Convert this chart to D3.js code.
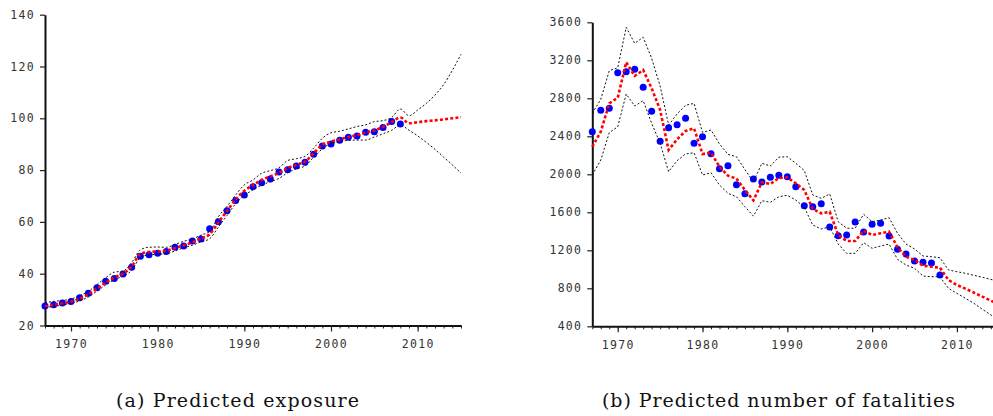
<!DOCTYPE html>
<html>
<head>
<meta charset="utf-8">
<script src="https://cdn.jsdelivr.net/npm/d3@7"></script>
<style>
  html, body { margin: 0; padding: 0; background: #fff; }
  svg { display: block; }
  .tick text { font-family: "DejaVu Sans Mono", monospace; font-size: 11.5px; fill: #333; letter-spacing: 1.3px; }
  .caption { font-family: "DejaVu Serif", "Liberation Serif", serif; fill: #111; }
</style>
</head>
<body>
<svg id="chart" width="993" height="416"></svg>
<script>
// ---------- DATA ----------
const yearsObs = d3.range(1967, 2009);   // observed years
const yearsFit = d3.range(1967, 2016);   // fitted + forecast years

const exposureObs = [27.5,28.0,28.7,29.3,30.7,32.5,34.6,37.1,38.1,39.9,
  42.5,46.7,47.3,47.9,48.6,50.2,50.7,52.6,53.4,57.4,
  60.1,64.3,68.3,70.4,73.6,75.1,76.6,79.3,80.1,81.6,
  83.0,86.1,89.3,90.1,91.5,92.7,93.2,94.6,94.8,96.4,
  98.8,97.8];
const exposureFit = [27.3,28.0,28.5,29.2,30.3,32.0,34.2,36.6,38.6,40.0,
  42.8,47.6,48.4,48.6,48.9,49.9,51.0,52.1,53.6,55.2,
  59.8,64.2,68.7,72.0,74.2,76.2,77.6,78.9,80.8,82.0,
  83.3,86.5,89.8,91.0,91.8,92.8,93.5,94.5,95.3,96.7,
  98.5,100.3,98.1,98.5,98.9,99.2,99.6,100.0,100.4];
const exposureUpper = [28.8,29.3,29.7,30.2,31.5,33.2,35.8,38.4,40.6,41.0,
  44.3,49.2,50.2,50.3,50.2,51.3,52.5,53.4,54.9,56.3,
  62.0,66.0,70.4,74.3,76.2,78.8,79.8,80.9,83.7,84.4,
  85.3,88.5,92.3,94.4,95.0,95.9,96.8,97.5,98.7,99.1,
  100.3,103.6,101.0,103.2,105.8,109.0,113.0,118.5,124.7];
const exposureLower = [26.9,27.4,27.9,28.5,29.5,31.0,33.3,35.6,37.7,39.0,
  41.3,46.2,47.3,47.5,47.7,48.8,50.0,51.0,52.3,53.5,
  58.0,62.5,67.0,70.2,72.4,74.2,75.5,76.8,79.0,80.5,
  81.6,85.0,88.2,90.3,90.9,91.5,91.6,91.6,92.8,94.0,
  95.4,97.4,95.4,93.2,90.7,88.0,85.0,82.0,78.8];

const fatalObs = [2448,2673,2695,3069,3080,3105,2916,2663,2347,2490,
  2522,2589,2326,2396,2217,2059,2090,1890,1796,1950,
  1919,1968,1989,1975,1869,1669,1659,1690,1445,1354,
  1361,1498,1393,1474,1484,1350,1210,1161,1087,1074,
  1066,940];
const fatalFit = [2290,2448,2747,2806,3179,3035,3098,2905,2677,2256,
  2368,2456,2484,2214,2227,2080,1985,1955,1835,1725,
  1916,1898,1961,1968,1905,1835,1635,1589,1606,1361,
  1298,1298,1406,1361,1379,1396,1232,1133,1098,1038,
  1027,1017,887,835,796,754,712,670,630];
const fatalUpper = [2642,2789,3090,3122,3547,3379,3442,3221,2929,2519,
  2635,2726,2747,2442,2466,2319,2210,2185,2050,1920,
  2116,2087,2180,2185,2116,2040,1782,1747,1793,1501,
  1432,1432,1579,1501,1519,1543,1379,1266,1214,1140,
  1133,1122,993,975,958,937,916,893,875];
const fatalLower = [1993,2150,2438,2501,2845,2719,2775,2537,2326,2027,
  2143,2214,2227,1993,2017,1887,1800,1764,1659,1560,
  1722,1705,1764,1779,1729,1652,1466,1424,1448,1266,
  1168,1168,1280,1221,1245,1266,1105,1045,1011,929,
  922,922,800,747,695,642,579,520,465];

const xTicks = [1970,1980,1990,2000,2010];
const yTicksL = [20,40,60,80,100,120,140];
const yTicksR = [400,800,1200,1600,2000,2400,2800,3200,3600];
const captions = ["(a) Predicted exposure", "(b) Predicted number of fatalities"];

// ---------- DRAW ----------
const svg = d3.select("#chart");

function panel(cfg) {
  const g = svg.append("g");
  const x = d3.scaleLinear().domain([1967, 2015]).range(cfg.xr);
  const y = d3.scaleLinear().domain(cfg.yd).range(cfg.yr);

  // y axis
  const ya = g.append("g").attr("transform", `translate(${cfg.xr[0]},0)`)
    .call(d3.axisLeft(y).tickValues(cfg.yTicks).tickSize(5).tickSizeOuter(0).tickPadding(5).tickFormat(d3.format("d")));
  ya.select(".domain").attr("stroke", "#111").attr("stroke-width", 2);
  ya.selectAll(".tick line").attr("stroke", "#222").attr("stroke-width", 1.2);

  // x axis minor ticks
  const xm = g.append("g").attr("transform", `translate(0,${cfg.yr[0]})`)
    .call(d3.axisBottom(x).tickValues(yearsFit).tickSize(3).tickSizeOuter(0).tickFormat(""));
  xm.select(".domain").remove();
  xm.selectAll(".tick line").attr("stroke", "#222").attr("stroke-width", 1);
  // x axis major
  const xa = g.append("g").attr("transform", `translate(0,${cfg.yr[0]})`)
    .call(d3.axisBottom(x).tickValues(xTicks).tickSize(6).tickSizeOuter(0).tickPadding(6).tickFormat(d3.format("d")));
  xa.select(".domain").attr("stroke", "#111").attr("stroke-width", 2);
  xa.selectAll(".tick line").attr("stroke", "#222").attr("stroke-width", 1.2);
  xa.selectAll(".tick text").attr("dy", "0.95em");

  const line = d3.line().x((d, i) => x(yearsFit[i])).y(d => y(d)).curve(cfg.curve);

  // observed points
  g.append("g").selectAll("circle").data(cfg.obs).join("circle")
    .attr("cx", (d, i) => x(yearsObs[i])).attr("cy", d => y(d))
    .attr("r", 3.5).attr("fill", "#0000ff");

  // fitted
  g.append("path").datum(cfg.fit).attr("d", line)
    .attr("fill", "none").attr("stroke", "#ff0000").attr("stroke-width", 2.6)
    .attr("stroke-dasharray", "3,2.2");

  // bands
  [cfg.upper, cfg.lower].forEach(arr => {
    g.append("path").datum(arr).attr("d", line)
      .attr("fill", "none").attr("stroke", "#111").attr("stroke-width", 1)
      .attr("stroke-dasharray", "2,2");
  });

  // caption
  svg.append("text").attr("class", "caption")
    .attr("x", cfg.capX).attr("y", 406.5).attr("text-anchor", "middle")
    .attr("font-size", 19)
    .attr("textLength", cfg.capW).attr("lengthAdjust", "spacing")
    .text(cfg.caption);
}

panel({
  xr: [45, 461], yd: [20, 140], yr: [325.5, 14.7], yTicks: yTicksL,
  obs: exposureObs, fit: exposureFit, upper: exposureUpper, lower: exposureLower,
  curve: d3.curveMonotoneX, caption: captions[0], capX: 237.5, capW: 243
});
panel({
  xr: [592.3, 999.3], yd: [400, 3600], yr: [326.3, 22.3], yTicks: yTicksR,
  obs: fatalObs, fit: fatalFit, upper: fatalUpper, lower: fatalLower,
  curve: d3.curveLinear, caption: captions[1], capX: 778.5, capW: 353
});
</script>
</body>
</html>
